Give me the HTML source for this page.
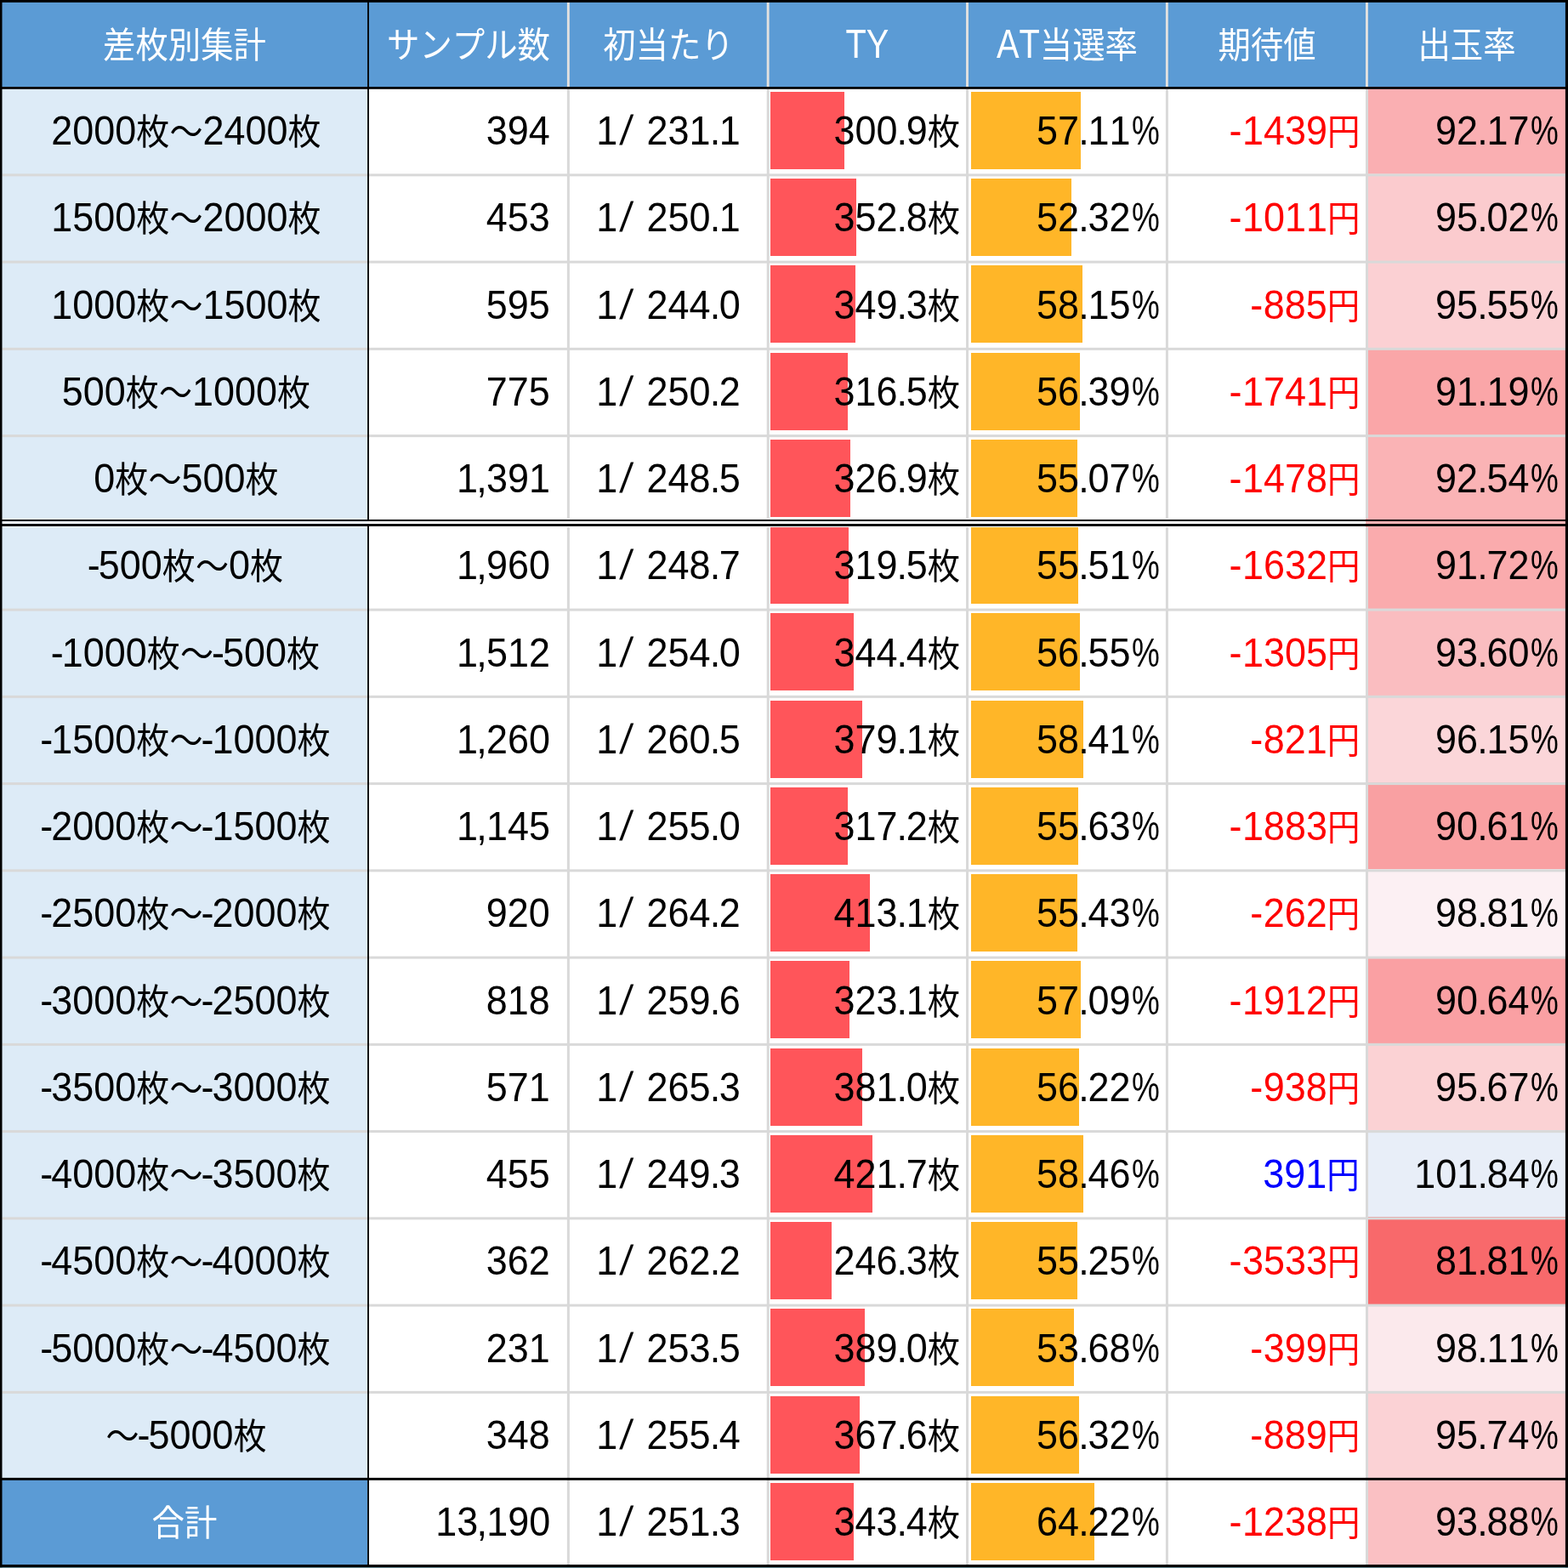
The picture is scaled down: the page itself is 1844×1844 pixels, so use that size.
<!DOCTYPE html>
<html lang="ja"><head><meta charset="utf-8"><title>差枚別集計</title>
<style>
html,body{margin:0;padding:0;background:#fff}
body{width:1844px;height:1844px;overflow:hidden;font-family:"Liberation Sans","Noto Sans CJK JP",sans-serif}
#sheet{will-change:transform;position:relative;width:1844px;height:1844px;overflow:hidden;background:#fff;font-size:49px;color:#000;font-kerning:none;font-variant-ligatures:none;font-variant-numeric:tabular-nums}
.row{position:absolute;left:0;width:1844px}
.c{position:absolute;top:0;height:100%;overflow:visible}
.hd{background:#5B9BD5;color:#fff}
.c1{left:0;width:432px;background:#DDEBF7}
.hd .c1,.tot .c1{background:#5B9BD5;color:#fff}
.c2{left:432px;width:235px}.c3{left:667px;width:235px}.c4{left:902px;width:234px}
.c5{left:1136px;width:235px}.c6{left:1371px;width:235px}.c7{left:1606px;width:238px}
.neg{color:#F00}.pos{color:#00F}
.bar{position:absolute;left:0;top:0}
.c4 .bar{left:4px;background:#FF555A}
.c5 .bar{left:5.5px;background:#FFB628}
.t{position:absolute;top:21.3px;height:60px;line-height:60px;white-space:nowrap;transform:scaleX(0.9174)}
.r{transform-origin:100% 50%}
.m0{left:50%;transform:translateX(-50%) scaleX(0.9174);transform-origin:50% 50%}
.j{font-family:"Liberation Sans","Noto Sans CJK JP",sans-serif;font-size:41.86px}
.c1 .j{font-size:42.62px}
.hd .c1 .j,.tot .c1 .j{font-size:41.86px}
.c6 .m{margin-right:0.56px}
.d{margin:0 -1.46px 0 -0.92px}
.cm{margin:0 -0.97px 0 -1.74px}
.sp{white-space:pre;margin-right:0.34px}
.m{margin:0 -2.05px 0 -2.27px}
.sl{display:inline-block;transform:skewX(-7.94deg);transform-origin:50% 50%;margin:0 4.69px 0 5.13px}
.pc{display:inline-block;transform:scaleX(0.821);transform-origin:0 50%;margin:0 -7.67px 0 1.71px}
.cap{display:inline-block;transform:scaleX(0.885);transform-origin:0 50%;margin-right:-7.20px}
#rules{position:absolute;left:0;top:0}
</style></head><body>
<div id="sheet">
<div class="row hd" style="top:0;height:103px">
<div class="c c1"><div class="t m0" style="margin-left:1.3px"><span class="j">差枚別集計</span></div></div>
<div class="c c2"><div class="t m0" style="margin-left:1.5px"><span class="j">サンプル数</span></div></div>
<div class="c c3"><div class="t m0" style="margin-left:1.3px"><span class="j">初当たり</span></div></div>
<div class="c c4"><div class="t m0" style="margin-left:1.4px"><span class="cap">TY</span></div></div>
<div class="c c5"><div class="t m0" style="margin-left:1.5px"><span class="cap">AT</span><span class="j">当選率</span></div></div>
<div class="c c6"><div class="t m0" style="margin-left:1.5px"><span class="j">期待値</span></div></div>
<div class="c c7"><div class="t m0"><span class="j">出玉率</span></div></div>
</div>
<div class="row" style="top:102px;height:102px">
<div class="c c1"><div class="t m0" style="margin-left:2.7px">2000<span class="j">枚〜</span>2400<span class="j">枚</span></div></div>
<div class="c c2"><div class="t r" style="right:20.0px">394</div></div>
<div class="c c3"><div class="t m0" style="margin-left:1.1px">1<span class="sl">/</span><span class="sp"> </span>231<span class="d">.</span>1</div></div>
<div class="c c4"><div class="bar" style="top:5.9px;height:91.0px;width:86.5px"></div><div class="t r" style="right:7.0px">300<span class="d">.</span>9<span class="j">枚</span></div></div>
<div class="c c5"><div class="bar" style="top:5.9px;height:91.0px;width:129.6px"></div><div class="t r" style="right:6.6px">57<span class="d">.</span>11<span class="pc">%</span></div></div>
<div class="c c6 neg"><div class="t r" style="right:7.0px"><span class="m">-</span>1439<span class="j">円</span></div></div>
<div class="c c7" style="background:#FAAFB2"><div class="t r" style="right:10.6px">92<span class="d">.</span>17<span class="pc">%</span></div></div>
</div>
<div class="row" style="top:204px;height:103px">
<div class="c c1"><div class="t m0" style="margin-left:2.7px">1500<span class="j">枚〜</span>2000<span class="j">枚</span></div></div>
<div class="c c2"><div class="t r" style="right:20.0px">453</div></div>
<div class="c c3"><div class="t m0" style="margin-left:1.1px">1<span class="sl">/</span><span class="sp"> </span>250<span class="d">.</span>1</div></div>
<div class="c c4"><div class="bar" style="top:6.1px;height:91.1px;width:100.7px"></div><div class="t r" style="right:7.0px">352<span class="d">.</span>8<span class="j">枚</span></div></div>
<div class="c c5"><div class="bar" style="top:6.1px;height:91.1px;width:118.9px"></div><div class="t r" style="right:6.6px">52<span class="d">.</span>32<span class="pc">%</span></div></div>
<div class="c c6 neg"><div class="t r" style="right:7.0px"><span class="m">-</span>1011<span class="j">円</span></div></div>
<div class="c c7" style="background:#FBCBCE"><div class="t r" style="right:10.6px">95<span class="d">.</span>02<span class="pc">%</span></div></div>
</div>
<div class="row" style="top:307px;height:102px">
<div class="c c1"><div class="t m0" style="margin-left:2.7px">1000<span class="j">枚〜</span>1500<span class="j">枚</span></div></div>
<div class="c c2"><div class="t r" style="right:20.0px">595</div></div>
<div class="c c3"><div class="t m0" style="margin-left:1.1px">1<span class="sl">/</span><span class="sp"> </span>244<span class="d">.</span>0</div></div>
<div class="c c4"><div class="bar" style="top:5.4px;height:91.0px;width:99.7px"></div><div class="t r" style="right:7.0px">349<span class="d">.</span>3<span class="j">枚</span></div></div>
<div class="c c5"><div class="bar" style="top:5.4px;height:91.0px;width:131.9px"></div><div class="t r" style="right:6.6px">58<span class="d">.</span>15<span class="pc">%</span></div></div>
<div class="c c6 neg"><div class="t r" style="right:7.0px"><span class="m">-</span>885<span class="j">円</span></div></div>
<div class="c c7" style="background:#FBD0D3"><div class="t r" style="right:10.6px">95<span class="d">.</span>55<span class="pc">%</span></div></div>
</div>
<div class="row" style="top:409px;height:102px">
<div class="c c1"><div class="t m0" style="margin-left:2.7px">500<span class="j">枚〜</span>1000<span class="j">枚</span></div></div>
<div class="c c2"><div class="t r" style="right:20.0px">775</div></div>
<div class="c c3"><div class="t m0" style="margin-left:1.1px">1<span class="sl">/</span><span class="sp"> </span>250<span class="d">.</span>2</div></div>
<div class="c c4"><div class="bar" style="top:5.7px;height:91.0px;width:90.7px"></div><div class="t r" style="right:7.0px">316<span class="d">.</span>5<span class="j">枚</span></div></div>
<div class="c c5"><div class="bar" style="top:5.7px;height:91.0px;width:128.0px"></div><div class="t r" style="right:6.6px">56<span class="d">.</span>39<span class="pc">%</span></div></div>
<div class="c c6 neg"><div class="t r" style="right:7.0px"><span class="m">-</span>1741<span class="j">円</span></div></div>
<div class="c c7" style="background:#FAA6A8"><div class="t r" style="right:10.6px">91<span class="d">.</span>19<span class="pc">%</span></div></div>
</div>
<div class="row" style="top:511px;height:102px">
<div class="c c1"><div class="t m0" style="margin-left:2.7px">0<span class="j">枚〜</span>500<span class="j">枚</span></div></div>
<div class="c c2"><div class="t r" style="right:20.0px">1<span class="cm">,</span>391</div></div>
<div class="c c3"><div class="t m0" style="margin-left:1.1px">1<span class="sl">/</span><span class="sp"> </span>248<span class="d">.</span>5</div></div>
<div class="c c4"><div class="bar" style="top:5.9px;height:91.0px;width:93.6px"></div><div class="t r" style="right:7.0px">326<span class="d">.</span>9<span class="j">枚</span></div></div>
<div class="c c5"><div class="bar" style="top:5.9px;height:91.0px;width:125.0px"></div><div class="t r" style="right:6.6px">55<span class="d">.</span>07<span class="pc">%</span></div></div>
<div class="c c6 neg"><div class="t r" style="right:7.0px"><span class="m">-</span>1478<span class="j">円</span></div></div>
<div class="c c7" style="background:#FAB3B5"><div class="t r" style="right:10.6px">92<span class="d">.</span>54<span class="pc">%</span></div></div>
</div>
<div class="row" style="top:613px;height:103px">
<div class="c c1"><div class="t m0" style="margin-left:2.7px"><span class="m">-</span>500<span class="j">枚〜</span>0<span class="j">枚</span></div></div>
<div class="c c2"><div class="t r" style="right:20.0px">1<span class="cm">,</span>960</div></div>
<div class="c c3"><div class="t m0" style="margin-left:1.1px">1<span class="sl">/</span><span class="sp"> </span>248<span class="d">.</span>7</div></div>
<div class="c c4"><div class="bar" style="top:6.2px;height:91.0px;width:91.6px"></div><div class="t r" style="right:7.0px">319<span class="d">.</span>5<span class="j">枚</span></div></div>
<div class="c c5"><div class="bar" style="top:6.2px;height:91.0px;width:126.0px"></div><div class="t r" style="right:6.6px">55<span class="d">.</span>51<span class="pc">%</span></div></div>
<div class="c c6 neg"><div class="t r" style="right:7.0px"><span class="m">-</span>1632<span class="j">円</span></div></div>
<div class="c c7" style="background:#FAABAD"><div class="t r" style="right:10.6px">91<span class="d">.</span>72<span class="pc">%</span></div></div>
</div>
<div class="row" style="top:716px;height:102px">
<div class="c c1"><div class="t m0" style="margin-left:2.7px"><span class="m">-</span>1000<span class="j">枚〜</span><span class="m">-</span>500<span class="j">枚</span></div></div>
<div class="c c2"><div class="t r" style="right:20.0px">1<span class="cm">,</span>512</div></div>
<div class="c c3"><div class="t m0" style="margin-left:1.1px">1<span class="sl">/</span><span class="sp"> </span>254<span class="d">.</span>0</div></div>
<div class="c c4"><div class="bar" style="top:5.4px;height:91.0px;width:98.4px"></div><div class="t r" style="right:7.0px">344<span class="d">.</span>4<span class="j">枚</span></div></div>
<div class="c c5"><div class="bar" style="top:5.4px;height:91.0px;width:128.3px"></div><div class="t r" style="right:6.6px">56<span class="d">.</span>55<span class="pc">%</span></div></div>
<div class="c c6 neg"><div class="t r" style="right:7.0px"><span class="m">-</span>1305<span class="j">円</span></div></div>
<div class="c c7" style="background:#FABDC0"><div class="t r" style="right:10.6px">93<span class="d">.</span>60<span class="pc">%</span></div></div>
</div>
<div class="row" style="top:818px;height:102px">
<div class="c c1"><div class="t m0" style="margin-left:2.7px"><span class="m">-</span>1500<span class="j">枚〜</span><span class="m">-</span>1000<span class="j">枚</span></div></div>
<div class="c c2"><div class="t r" style="right:20.0px">1<span class="cm">,</span>260</div></div>
<div class="c c3"><div class="t m0" style="margin-left:1.1px">1<span class="sl">/</span><span class="sp"> </span>260<span class="d">.</span>5</div></div>
<div class="c c4"><div class="bar" style="top:5.7px;height:91.0px;width:107.8px"></div><div class="t r" style="right:7.0px">379<span class="d">.</span>1<span class="j">枚</span></div></div>
<div class="c c5"><div class="bar" style="top:5.7px;height:91.0px;width:132.5px"></div><div class="t r" style="right:6.6px">58<span class="d">.</span>41<span class="pc">%</span></div></div>
<div class="c c6 neg"><div class="t r" style="right:7.0px"><span class="m">-</span>821<span class="j">円</span></div></div>
<div class="c c7" style="background:#FBD6D9"><div class="t r" style="right:10.6px">96<span class="d">.</span>15<span class="pc">%</span></div></div>
</div>
<div class="row" style="top:920px;height:102px">
<div class="c c1"><div class="t m0" style="margin-left:2.7px"><span class="m">-</span>2000<span class="j">枚〜</span><span class="m">-</span>1500<span class="j">枚</span></div></div>
<div class="c c2"><div class="t r" style="right:20.0px">1<span class="cm">,</span>145</div></div>
<div class="c c3"><div class="t m0" style="margin-left:1.1px">1<span class="sl">/</span><span class="sp"> </span>255<span class="d">.</span>0</div></div>
<div class="c c4"><div class="bar" style="top:5.9px;height:91.0px;width:90.9px"></div><div class="t r" style="right:7.0px">317<span class="d">.</span>2<span class="j">枚</span></div></div>
<div class="c c5"><div class="bar" style="top:5.9px;height:91.0px;width:126.3px"></div><div class="t r" style="right:6.6px">55<span class="d">.</span>63<span class="pc">%</span></div></div>
<div class="c c6 neg"><div class="t r" style="right:7.0px"><span class="m">-</span>1883<span class="j">円</span></div></div>
<div class="c c7" style="background:#F9A0A2"><div class="t r" style="right:10.6px">90<span class="d">.</span>61<span class="pc">%</span></div></div>
</div>
<div class="row" style="top:1022px;height:103px">
<div class="c c1"><div class="t m0" style="margin-left:2.7px"><span class="m">-</span>2500<span class="j">枚〜</span><span class="m">-</span>2000<span class="j">枚</span></div></div>
<div class="c c2"><div class="t r" style="right:20.0px">920</div></div>
<div class="c c3"><div class="t m0" style="margin-left:1.1px">1<span class="sl">/</span><span class="sp"> </span>264<span class="d">.</span>2</div></div>
<div class="c c4"><div class="bar" style="top:6.2px;height:91.0px;width:117.1px"></div><div class="t r" style="right:7.0px">413<span class="d">.</span>1<span class="j">枚</span></div></div>
<div class="c c5"><div class="bar" style="top:6.2px;height:91.0px;width:125.8px"></div><div class="t r" style="right:6.6px">55<span class="d">.</span>43<span class="pc">%</span></div></div>
<div class="c c6 neg"><div class="t r" style="right:7.0px"><span class="m">-</span>262<span class="j">円</span></div></div>
<div class="c c7" style="background:#FCF0F3"><div class="t r" style="right:10.6px">98<span class="d">.</span>81<span class="pc">%</span></div></div>
</div>
<div class="row" style="top:1125px;height:102px">
<div class="c c1"><div class="t m0" style="margin-left:2.7px"><span class="m">-</span>3000<span class="j">枚〜</span><span class="m">-</span>2500<span class="j">枚</span></div></div>
<div class="c c2"><div class="t r" style="right:20.0px">818</div></div>
<div class="c c3"><div class="t m0" style="margin-left:1.1px">1<span class="sl">/</span><span class="sp"> </span>259<span class="d">.</span>6</div></div>
<div class="c c4"><div class="bar" style="top:5.4px;height:91.0px;width:92.5px"></div><div class="t r" style="right:7.0px">323<span class="d">.</span>1<span class="j">枚</span></div></div>
<div class="c c5"><div class="bar" style="top:5.4px;height:91.0px;width:129.5px"></div><div class="t r" style="right:6.6px">57<span class="d">.</span>09<span class="pc">%</span></div></div>
<div class="c c6 neg"><div class="t r" style="right:7.0px"><span class="m">-</span>1912<span class="j">円</span></div></div>
<div class="c c7" style="background:#FAA0A3"><div class="t r" style="right:10.6px">90<span class="d">.</span>64<span class="pc">%</span></div></div>
</div>
<div class="row" style="top:1227px;height:102px">
<div class="c c1"><div class="t m0" style="margin-left:2.7px"><span class="m">-</span>3500<span class="j">枚〜</span><span class="m">-</span>3000<span class="j">枚</span></div></div>
<div class="c c2"><div class="t r" style="right:20.0px">571</div></div>
<div class="c c3"><div class="t m0" style="margin-left:1.1px">1<span class="sl">/</span><span class="sp"> </span>265<span class="d">.</span>3</div></div>
<div class="c c4"><div class="bar" style="top:5.6px;height:91.0px;width:108.4px"></div><div class="t r" style="right:7.0px">381<span class="d">.</span>0<span class="j">枚</span></div></div>
<div class="c c5"><div class="bar" style="top:5.6px;height:91.0px;width:127.6px"></div><div class="t r" style="right:6.6px">56<span class="d">.</span>22<span class="pc">%</span></div></div>
<div class="c c6 neg"><div class="t r" style="right:7.0px"><span class="m">-</span>938<span class="j">円</span></div></div>
<div class="c c7" style="background:#FBD2D4"><div class="t r" style="right:10.6px">95<span class="d">.</span>67<span class="pc">%</span></div></div>
</div>
<div class="row" style="top:1329px;height:102px">
<div class="c c1"><div class="t m0" style="margin-left:2.7px"><span class="m">-</span>4000<span class="j">枚〜</span><span class="m">-</span>3500<span class="j">枚</span></div></div>
<div class="c c2"><div class="t r" style="right:20.0px">455</div></div>
<div class="c c3"><div class="t m0" style="margin-left:1.1px">1<span class="sl">/</span><span class="sp"> </span>249<span class="d">.</span>3</div></div>
<div class="c c4"><div class="bar" style="top:5.9px;height:91.0px;width:119.5px"></div><div class="t r" style="right:7.0px">421<span class="d">.</span>7<span class="j">枚</span></div></div>
<div class="c c5"><div class="bar" style="top:5.9px;height:91.0px;width:132.6px"></div><div class="t r" style="right:6.6px">58<span class="d">.</span>46<span class="pc">%</span></div></div>
<div class="c c6 pos"><div class="t r" style="right:7.0px">391<span class="j">円</span></div></div>
<div class="c c7" style="background:#E8EEF8"><div class="t r" style="right:10.6px">101<span class="d">.</span>84<span class="pc">%</span></div></div>
</div>
<div class="row" style="top:1431px;height:103px">
<div class="c c1"><div class="t m0" style="margin-left:2.7px"><span class="m">-</span>4500<span class="j">枚〜</span><span class="m">-</span>4000<span class="j">枚</span></div></div>
<div class="c c2"><div class="t r" style="right:20.0px">362</div></div>
<div class="c c3"><div class="t m0" style="margin-left:1.1px">1<span class="sl">/</span><span class="sp"> </span>262<span class="d">.</span>2</div></div>
<div class="c c4"><div class="bar" style="top:6.1px;height:91.0px;width:71.5px"></div><div class="t r" style="right:7.0px">246<span class="d">.</span>3<span class="j">枚</span></div></div>
<div class="c c5"><div class="bar" style="top:6.1px;height:91.0px;width:125.4px"></div><div class="t r" style="right:6.6px">55<span class="d">.</span>25<span class="pc">%</span></div></div>
<div class="c c6 neg"><div class="t r" style="right:7.0px"><span class="m">-</span>3533<span class="j">円</span></div></div>
<div class="c c7" style="background:#F8696B"><div class="t r" style="right:10.6px">81<span class="d">.</span>81<span class="pc">%</span></div></div>
</div>
<div class="row" style="top:1534px;height:102px">
<div class="c c1"><div class="t m0" style="margin-left:2.7px"><span class="m">-</span>5000<span class="j">枚〜</span><span class="m">-</span>4500<span class="j">枚</span></div></div>
<div class="c c2"><div class="t r" style="right:20.0px">231</div></div>
<div class="c c3"><div class="t m0" style="margin-left:1.1px">1<span class="sl">/</span><span class="sp"> </span>253<span class="d">.</span>5</div></div>
<div class="c c4"><div class="bar" style="top:5.4px;height:91.0px;width:110.6px"></div><div class="t r" style="right:7.0px">389<span class="d">.</span>0<span class="j">枚</span></div></div>
<div class="c c5"><div class="bar" style="top:5.4px;height:91.0px;width:121.9px"></div><div class="t r" style="right:6.6px">53<span class="d">.</span>68<span class="pc">%</span></div></div>
<div class="c c6 neg"><div class="t r" style="right:7.0px"><span class="m">-</span>399<span class="j">円</span></div></div>
<div class="c c7" style="background:#FBE9EC"><div class="t r" style="right:10.6px">98<span class="d">.</span>11<span class="pc">%</span></div></div>
</div>
<div class="row" style="top:1636px;height:102px">
<div class="c c1"><div class="t m0" style="margin-left:2.7px"><span class="j">〜</span><span class="m">-</span>5000<span class="j">枚</span></div></div>
<div class="c c2"><div class="t r" style="right:20.0px">348</div></div>
<div class="c c3"><div class="t m0" style="margin-left:1.1px">1<span class="sl">/</span><span class="sp"> </span>255<span class="d">.</span>4</div></div>
<div class="c c4"><div class="bar" style="top:5.6px;height:91.0px;width:104.7px"></div><div class="t r" style="right:7.0px">367<span class="d">.</span>6<span class="j">枚</span></div></div>
<div class="c c5"><div class="bar" style="top:5.6px;height:91.0px;width:127.8px"></div><div class="t r" style="right:6.6px">56<span class="d">.</span>32<span class="pc">%</span></div></div>
<div class="c c6 neg"><div class="t r" style="right:7.0px"><span class="m">-</span>889<span class="j">円</span></div></div>
<div class="c c7" style="background:#FBD2D5"><div class="t r" style="right:10.6px">95<span class="d">.</span>74<span class="pc">%</span></div></div>
</div>
<div class="row tot" style="top:1738px;height:102px">
<div class="c c1"><div class="t m0" style="margin-left:1.3px"><span class="j">合計</span></div></div>
<div class="c c2"><div class="t r" style="right:20.0px">13<span class="cm">,</span>190</div></div>
<div class="c c3"><div class="t m0" style="margin-left:1.1px">1<span class="sl">/</span><span class="sp"> </span>251<span class="d">.</span>3</div></div>
<div class="c c4"><div class="bar" style="top:5.9px;height:91.0px;width:98.1px"></div><div class="t r" style="right:7.0px">343<span class="d">.</span>4<span class="j">枚</span></div></div>
<div class="c c5"><div class="bar" style="top:5.9px;height:91.0px;width:145.4px"></div><div class="t r" style="right:6.6px">64<span class="d">.</span>22<span class="pc">%</span></div></div>
<div class="c c6 neg"><div class="t r" style="right:7.0px"><span class="m">-</span>1238<span class="j">円</span></div></div>
<div class="c c7" style="background:#FAC0C3"><div class="t r" style="right:10.6px">93<span class="d">.</span>88<span class="pc">%</span></div></div>
</div>
<svg id="rules" width="1844" height="1844" viewBox="0 0 1844 1844" aria-hidden="true">
<rect x="666.90" y="2.80" width="2.90" height="99.30" fill="#E2E1DF"/>
<rect x="666.90" y="104.80" width="3.00" height="1735.20" fill="#D9D9D9"/>
<rect x="901.70" y="2.80" width="2.90" height="99.30" fill="#E2E1DF"/>
<rect x="901.70" y="104.80" width="3.00" height="1735.20" fill="#D9D9D9"/>
<rect x="1136.05" y="2.80" width="2.90" height="99.30" fill="#E2E1DF"/>
<rect x="1136.05" y="104.80" width="3.00" height="1735.20" fill="#D9D9D9"/>
<rect x="1370.90" y="2.80" width="2.90" height="99.30" fill="#E2E1DF"/>
<rect x="1370.90" y="104.80" width="3.00" height="1735.20" fill="#D9D9D9"/>
<rect x="1606.00" y="2.80" width="2.90" height="99.30" fill="#E2E1DF"/>
<rect x="1606.00" y="104.80" width="3.00" height="1735.20" fill="#D9D9D9"/>
<rect x="2.50" y="204.35" width="1838.50" height="3.00" fill="#D9D9D9"/>
<rect x="2.50" y="306.60" width="1838.50" height="3.00" fill="#D9D9D9"/>
<rect x="2.50" y="408.85" width="1838.50" height="3.00" fill="#D9D9D9"/>
<rect x="2.50" y="511.10" width="1838.50" height="3.00" fill="#D9D9D9"/>
<rect x="2.50" y="715.60" width="1838.50" height="3.00" fill="#D9D9D9"/>
<rect x="2.50" y="817.85" width="1838.50" height="3.00" fill="#D9D9D9"/>
<rect x="2.50" y="920.10" width="1838.50" height="3.00" fill="#D9D9D9"/>
<rect x="2.50" y="1022.35" width="1838.50" height="3.00" fill="#D9D9D9"/>
<rect x="2.50" y="1124.60" width="1838.50" height="3.00" fill="#D9D9D9"/>
<rect x="2.50" y="1226.85" width="1838.50" height="3.00" fill="#D9D9D9"/>
<rect x="2.50" y="1329.10" width="1838.50" height="3.00" fill="#D9D9D9"/>
<rect x="2.50" y="1431.35" width="1838.50" height="3.00" fill="#D9D9D9"/>
<rect x="2.50" y="1533.60" width="1838.50" height="3.00" fill="#D9D9D9"/>
<rect x="2.50" y="1635.85" width="1838.50" height="3.00" fill="#D9D9D9"/>
<rect x="2.50" y="609.70" width="429.60" height="10.40" fill="#EEF5FB"/>
<rect x="434.00" y="609.70" width="1172.00" height="10.40" fill="#FFFFFF"/>
<rect x="1606.00" y="609.70" width="235.00" height="10.40" fill="#FAB3B5"/>
<rect x="432.10" y="0.00" width="1.90" height="613.00" fill="#000"/>
<rect x="432.10" y="616.10" width="1.90" height="1223.90" fill="#000"/>
<rect x="0.00" y="610.95" width="1844.00" height="2.05" fill="#000"/>
<rect x="0.00" y="616.10" width="1844.00" height="2.80" fill="#000"/>
<rect x="0.00" y="0.00" width="1844.00" height="2.85" fill="#000"/>
<rect x="0.00" y="0.00" width="2.50" height="1844.00" fill="#000"/>
<rect x="1840.90" y="0.00" width="3.10" height="1844.00" fill="#000"/>
<rect x="0.00" y="102.10" width="1844.00" height="2.70" fill="#000"/>
<rect x="0.00" y="1737.90" width="1844.00" height="2.90" fill="#000"/>
<rect x="0.00" y="1840.00" width="1844.00" height="3.10" fill="#000"/>
<rect x="0.00" y="1843.10" width="1844.00" height="0.90" fill="#5A808B"/>
</svg>
</div></body></html>
